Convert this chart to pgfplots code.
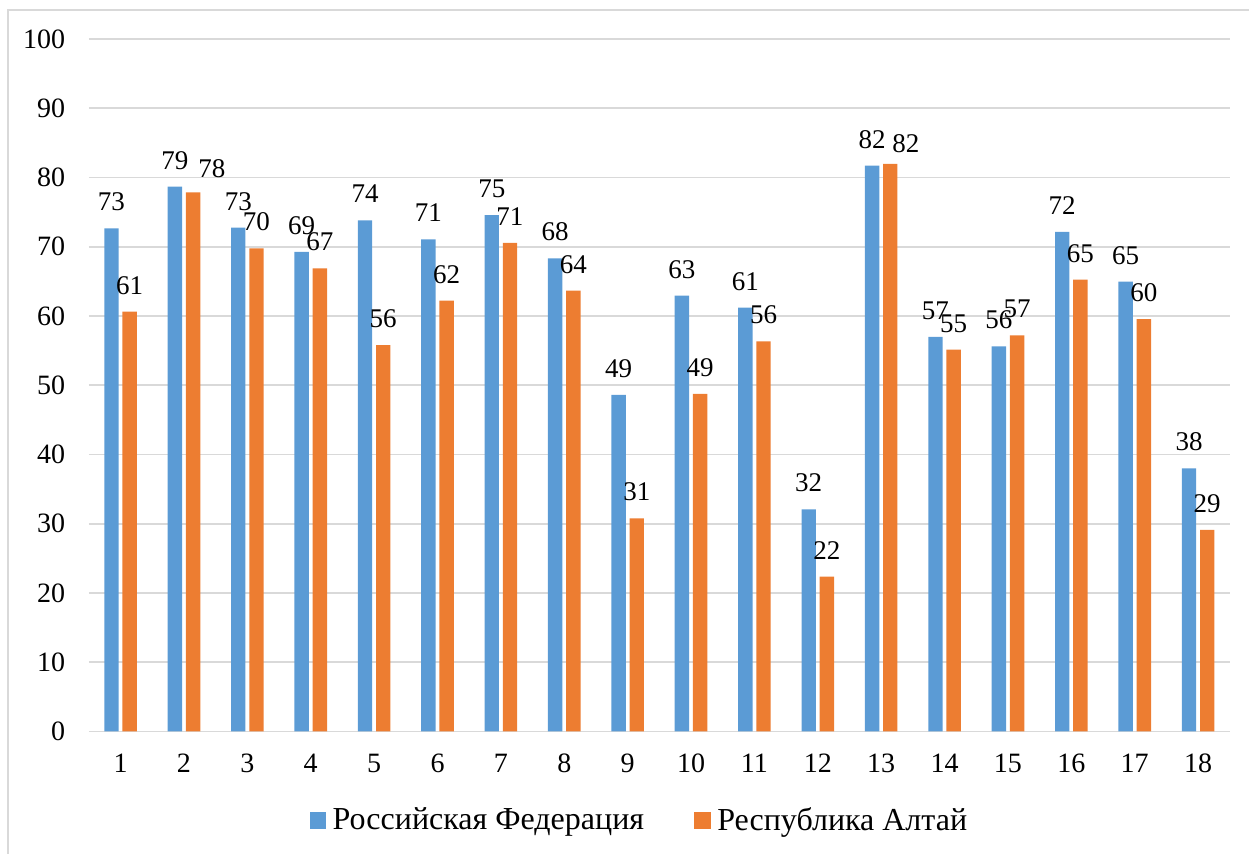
\documentclass[border=0pt]{standalone}
\usepackage{fontspec}
\setmainfont{Liberation Serif}
\newfontfamily\tnr{Liberation Serif}
\usepackage{pgfplots}
\usepackage{pgfplotstable}
\pgfplotsset{compat=1.18}

\definecolor{rfblue}{HTML}{5B9BD5}
\definecolor{raorange}{HTML}{ED7D31}
\definecolor{gridgray}{HTML}{D9D9D9}

% x = item, y = value, lab = printed label, dx/dy = label offset (pt)
\pgfplotstableread{
x  y      lab dx   dy
1  72.66  73  0    8.5
2  78.67  79  0    8.5
3  72.75  73  0    8.5
4  69.24  69  0    8.5
5  73.82  74  0    8.5
6  71.08  71  0    8.5
7  74.58  75  0    8.5
8  68.33  68  0    8.5
9  48.59  49  0    8.5
10 62.93  63  0    8.5
11 61.20  61  0    8.5
12 32.09  32  0    8.5
13 81.70  82  0    8.5
14 56.97  57  0    8.5
15 55.62  56  0    8.5
16 72.13  72  0    8.5
17 64.95  65  0    8.5
18 38.00  38  0    8.5
}\rfdata

\pgfplotstableread{
x  y      lab dx   dy
1  60.62  61  0    8.5
2  77.86  78  9.35 7
3  69.78  70  0    8.5
4  66.89  67  0    8.5
5  55.81  56  0    8.5
6  62.21  62  0    8.5
7  70.55  71  0    8.5
8  63.65  64  0    8.5
9  30.79  31  0    8.5
10 48.74  49  0    8.5
11 56.35  56  0    8.5
12 22.35  22  0    8.5
13 81.95  82  7.75 5.35
14 55.13  55  0    8.5
15 57.21  57  0    8.5
16 65.24  65  0    8.5
17 59.55  60  0    8.5
18 29.10  29  0    8.5
}\radata

\begin{document}
\begin{tikzpicture}[font=\tnr]
\begin{axis}[
    scale only axis,
    width=570.45pt, height=346.25pt,
    xmin=0.5, xmax=18.5,
    ymin=0, ymax=100,
    ybar=1.9pt, bar width=7.2pt,
    xtick={1,...,18},
    ytick={0,10,...,100},
    ymajorgrids=true,
    grid style={gridgray, line width=0.8pt},
    axis x line*=bottom,
    axis y line*=left,
    x axis line style={gridgray, line width=0.8pt},
    y axis line style={draw=none},
    major tick length=0pt,
    tick style={draw=none},
    /pgf/number format/assume math mode=true,
    xticklabel style={font=\tnr\fontsize{14}{16}\selectfont, anchor=base, inner sep=0pt, yshift=-20.6pt},
    yticklabel style={font=\tnr\fontsize{14}{16}\selectfont, anchor=east, inner sep=0pt, xshift=-11.7pt},
    point meta=explicit symbolic,
    nodes near coords,
    visualization depends on={\thisrow{dx} \as \dx},
    visualization depends on={\thisrow{dy} \as \dy},
    every node near coord/.append style={font=\tnr\fontsize{13.5}{15}\selectfont, text=black,
        anchor=south, inner sep=0pt, xshift=\dx pt, yshift=\dy pt},
    legend columns=2,
    legend style={at={(0.4816,-0.1282)}, anchor=center, draw=none, fill=none,
        inner sep=0pt, font=\tnr\fontsize{16}{18}\selectfont,
        nodes={inner sep=0pt},
        /tikz/every odd column/.append style={column sep=3.3pt},
        /tikz/every even column/.append style={column sep=25pt}},
    legend image code/.code={\fill[#1, draw=none] (0pt,-4.15pt) rectangle (8.3pt,4.15pt);},
]

\addplot[fill=rfblue, draw=none] table[x=x, y=y, meta=lab] {\rfdata};
\addlegendentry{Российская Федерация}

\addplot[fill=raorange, draw=none] table[x=x, y=y, meta=lab] {\radata};
\addlegendentry{Республика Алтай}

\end{axis}

% chart frame (right and bottom edges fall outside the page)
\draw[gridgray, line width=0.75pt] (-40.45pt,-90pt) rectangle (620pt,360.75pt);
\pgfresetboundingbox
\useasboundingbox (-44.45pt,-61.25pt) rectangle (580.05pt,365.75pt);
\end{tikzpicture}
\end{document}
